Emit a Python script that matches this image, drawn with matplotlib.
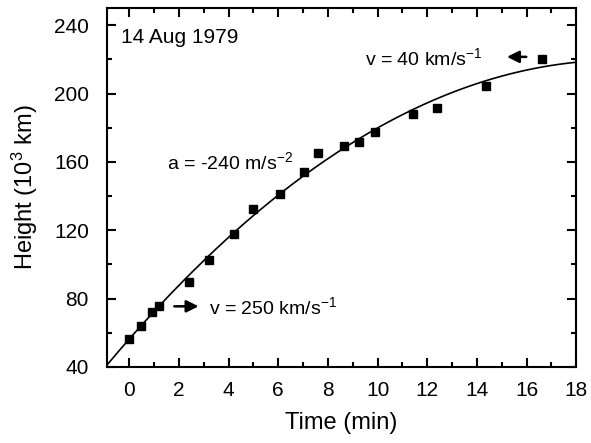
import numpy as np
import matplotlib
matplotlib.use("Agg")
import matplotlib.pyplot as plt
from matplotlib.ticker import MultipleLocator

# CME height-time measurements, 14 Aug 1979
time_min = [0.0, 0.47, 0.9, 1.21, 2.39, 3.19, 4.21, 4.97, 6.05, 7.03,
            7.6, 8.66, 9.25, 9.88, 11.44, 12.38, 14.38, 16.61]
height_km3 = [56.2, 64.0, 72.0, 75.7, 89.9, 102.6, 117.8, 132.4, 141.3, 154.4,
              165.1, 169.4, 171.8, 177.6, 188.3, 191.8, 204.5, 220.5]
x_ticks = [0, 2, 4, 6, 8, 10, 12, 14, 16, 18]
y_ticks = [40, 80, 120, 160, 200, 240]

plt.rcParams['font.family'] = ['Liberation Sans', 'DejaVu Sans']
plt.rcParams['mathtext.fontset'] = 'custom'
plt.rcParams['mathtext.rm'] = 'Liberation Sans'
plt.rcParams['mathtext.it'] = 'Liberation Sans'

fig = plt.figure(figsize=(5.91, 4.43), dpi=100)
ax = fig.add_axes([0.181, 0.1716, 0.794, 0.810])

# quadratic (constant deceleration) fit
coef = np.polyfit(time_min, height_km3, 2)
tt = np.linspace(-0.9, 18, 300)
ax.plot(tt, np.polyval(coef, tt), color='black', lw=1.2)
ax.plot(time_min, height_km3, 's', color='black', ms=6)

ax.set_xlim(-0.9, 18)
ax.set_ylim(40, 250)
ax.set_xticks(x_ticks)
ax.set_yticks(y_ticks)
ax.xaxis.set_minor_locator(MultipleLocator(1))
ax.yaxis.set_minor_locator(MultipleLocator(20))
ax.tick_params(which='both', direction='in', top=True, right=True,
               width=1.5, labelsize=15)
ax.tick_params(axis='x', pad=10)
ax.tick_params(axis='y', pad=13)
ax.tick_params(which='major', length=6.5)
ax.tick_params(which='minor', length=3.5)
for s in ax.spines.values():
    s.set_linewidth(1.5)

ax.set_xlabel('Time (min)', fontsize=17, labelpad=9)
ax.set_ylabel('Height (10$^3$ km)', fontsize=17, labelpad=10)

ax.text(-0.35, 233, '14 Aug 1979', fontsize=15, va='center')
ax.text(1.5, 160, 'a = -240 m/s$^{\\mathregular{-2}}$', fontsize=14, va='center')
ax.text(3.2, 75, 'v = 250 km/s$^{-1}$', fontsize=14, va='center')
ax.text(9.5, 220.5, 'v = 40 km/s$^{-1}$', fontsize=14, va='center')
ax.annotate('', xy=(2.9, 75.5), xytext=(1.7, 75.5),
            arrowprops=dict(arrowstyle='-|>', color='black', lw=1.8,
                            mutation_scale=18))
ax.annotate('', xy=(15.1, 221.5), xytext=(16.1, 221.5),
            arrowprops=dict(arrowstyle='-|>', color='black', lw=1.8,
                            mutation_scale=18))

fig.savefig('out.png', dpi=100)
